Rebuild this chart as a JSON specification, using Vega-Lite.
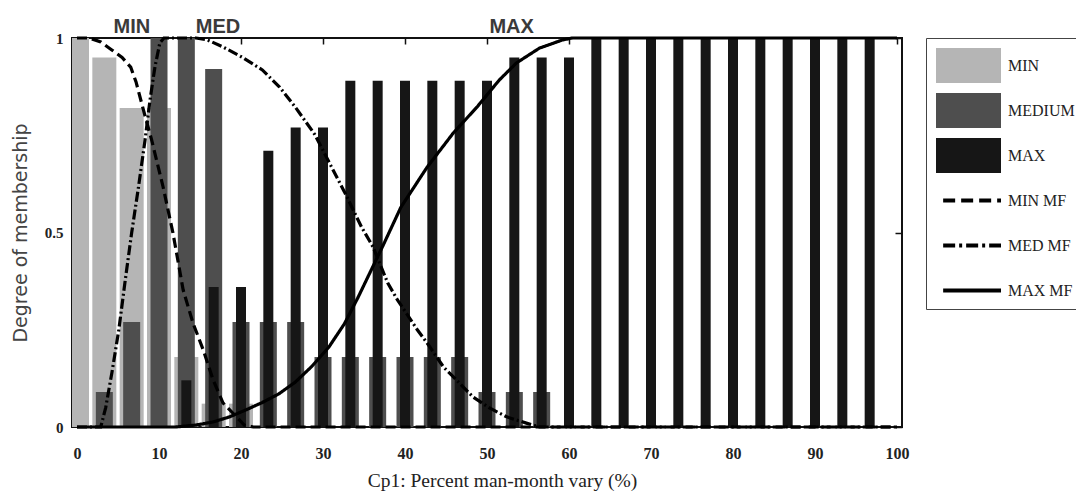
{
  "$schema": "https://vega.github.io/schema/vega-lite/v6.json",
  "width": 830,
  "height": 389,
  "autosize": {"type": "none"},
  "padding": {"left": 72, "top": 38, "right": 174, "bottom": 70},
  "background": "white",
  "config": {"view": {"stroke": "#111111", "strokeWidth": 2}},
  "datasets": {
    "bars": [
      {"x": 0, "mn": 1, "md": 0, "mx": 0},
      {"x": 3.333, "mn": 0.95, "md": 0.09, "mx": 0},
      {"x": 6.667, "mn": 0.82, "md": 0.27, "mx": 0},
      {"x": 10, "mn": 0.82, "md": 1, "mx": 0},
      {"x": 13.333, "mn": 0.18, "md": 1, "mx": 0.12},
      {"x": 16.667, "mn": 0.06, "md": 0.92, "mx": 0.36},
      {"x": 20, "mn": 0.06, "md": 0.27, "mx": 0.36},
      {"x": 23.333, "mn": 0, "md": 0.27, "mx": 0.71},
      {"x": 26.667, "mn": 0, "md": 0.27, "mx": 0.77},
      {"x": 30, "mn": 0, "md": 0.18, "mx": 0.77},
      {"x": 33.333, "mn": 0, "md": 0.18, "mx": 0.89},
      {"x": 36.667, "mn": 0, "md": 0.18, "mx": 0.89},
      {"x": 40, "mn": 0, "md": 0.18, "mx": 0.89},
      {"x": 43.333, "mn": 0, "md": 0.18, "mx": 0.89},
      {"x": 46.667, "mn": 0, "md": 0.18, "mx": 0.89},
      {"x": 50, "mn": 0, "md": 0.09, "mx": 0.89},
      {"x": 53.333, "mn": 0, "md": 0.09, "mx": 0.95},
      {"x": 56.667, "mn": 0, "md": 0.09, "mx": 0.95},
      {"x": 60, "mn": 0, "md": 0, "mx": 0.95},
      {"x": 63.333, "mn": 0, "md": 0, "mx": 1},
      {"x": 66.667, "mn": 0, "md": 0, "mx": 1},
      {"x": 70, "mn": 0, "md": 0, "mx": 1},
      {"x": 73.333, "mn": 0, "md": 0, "mx": 1},
      {"x": 76.667, "mn": 0, "md": 0, "mx": 1},
      {"x": 80, "mn": 0, "md": 0, "mx": 1},
      {"x": 83.333, "mn": 0, "md": 0, "mx": 1},
      {"x": 86.667, "mn": 0, "md": 0, "mx": 1},
      {"x": 90, "mn": 0, "md": 0, "mx": 1},
      {"x": 93.333, "mn": 0, "md": 0, "mx": 1},
      {"x": 96.667, "mn": 0, "md": 0, "mx": 1}
    ],
    "lines": [
      {"series": "MIN MF", "x": 0, "y": 1},
      {"series": "MIN MF", "x": 1.5, "y": 1},
      {"series": "MIN MF", "x": 2.9, "y": 0.99},
      {"series": "MIN MF", "x": 4.2, "y": 0.97},
      {"series": "MIN MF", "x": 5.5, "y": 0.95},
      {"series": "MIN MF", "x": 6.55, "y": 0.925},
      {"series": "MIN MF", "x": 7.2, "y": 0.887},
      {"series": "MIN MF", "x": 8.1, "y": 0.815},
      {"series": "MIN MF", "x": 9.1, "y": 0.738},
      {"series": "MIN MF", "x": 10.5, "y": 0.617},
      {"series": "MIN MF", "x": 11.7, "y": 0.499},
      {"series": "MIN MF", "x": 12.95, "y": 0.352},
      {"series": "MIN MF", "x": 14.15, "y": 0.267},
      {"series": "MIN MF", "x": 15.4, "y": 0.198},
      {"series": "MIN MF", "x": 16.6, "y": 0.121},
      {"series": "MIN MF", "x": 17.8, "y": 0.062},
      {"series": "MIN MF", "x": 19, "y": 0.036},
      {"series": "MIN MF", "x": 20.4, "y": 0.005},
      {"series": "MIN MF", "x": 21.5, "y": 0},
      {"series": "MIN MF", "x": 100, "y": 0},
      {"series": "MED MF", "x": 0, "y": 0},
      {"series": "MED MF", "x": 2.9, "y": 0},
      {"series": "MED MF", "x": 3.5, "y": 0.05},
      {"series": "MED MF", "x": 4.26, "y": 0.14},
      {"series": "MED MF", "x": 5.1, "y": 0.25},
      {"series": "MED MF", "x": 5.9, "y": 0.38},
      {"series": "MED MF", "x": 6.67, "y": 0.5},
      {"series": "MED MF", "x": 7.5, "y": 0.617},
      {"series": "MED MF", "x": 8.3, "y": 0.738},
      {"series": "MED MF", "x": 8.9, "y": 0.84},
      {"series": "MED MF", "x": 9.5, "y": 0.925},
      {"series": "MED MF", "x": 10.1, "y": 0.987},
      {"series": "MED MF", "x": 10.6, "y": 1},
      {"series": "MED MF", "x": 14.5, "y": 1},
      {"series": "MED MF", "x": 15.8, "y": 0.996},
      {"series": "MED MF", "x": 17.8, "y": 0.977},
      {"series": "MED MF", "x": 20.2, "y": 0.95},
      {"series": "MED MF", "x": 22.6, "y": 0.918},
      {"series": "MED MF", "x": 24.7, "y": 0.874},
      {"series": "MED MF", "x": 26.6, "y": 0.823},
      {"series": "MED MF", "x": 29, "y": 0.752},
      {"series": "MED MF", "x": 31, "y": 0.67},
      {"series": "MED MF", "x": 32.6, "y": 0.605},
      {"series": "MED MF", "x": 34.7, "y": 0.514},
      {"series": "MED MF", "x": 36.1, "y": 0.463},
      {"series": "MED MF", "x": 37.9, "y": 0.37},
      {"series": "MED MF", "x": 39.1, "y": 0.326},
      {"series": "MED MF", "x": 41.5, "y": 0.25},
      {"series": "MED MF", "x": 42.7, "y": 0.216},
      {"series": "MED MF", "x": 44.7, "y": 0.154},
      {"series": "MED MF", "x": 45.9, "y": 0.129},
      {"series": "MED MF", "x": 48.3, "y": 0.077},
      {"series": "MED MF", "x": 50.3, "y": 0.049},
      {"series": "MED MF", "x": 52.4, "y": 0.026},
      {"series": "MED MF", "x": 54.8, "y": 0.01},
      {"series": "MED MF", "x": 56.4, "y": 0},
      {"series": "MED MF", "x": 100, "y": 0},
      {"series": "MAX MF", "x": 0, "y": 0},
      {"series": "MAX MF", "x": 12, "y": 0},
      {"series": "MAX MF", "x": 14.5, "y": 0.005},
      {"series": "MAX MF", "x": 16.6, "y": 0.013},
      {"series": "MAX MF", "x": 18.6, "y": 0.026},
      {"series": "MAX MF", "x": 20.6, "y": 0.044},
      {"series": "MAX MF", "x": 22.6, "y": 0.063},
      {"series": "MAX MF", "x": 24.6, "y": 0.085},
      {"series": "MAX MF", "x": 26.6, "y": 0.115},
      {"series": "MAX MF", "x": 28.6, "y": 0.155},
      {"series": "MAX MF", "x": 30.7, "y": 0.205},
      {"series": "MAX MF", "x": 32.6, "y": 0.265},
      {"series": "MAX MF", "x": 34.2, "y": 0.33},
      {"series": "MAX MF", "x": 35.8, "y": 0.4},
      {"series": "MAX MF", "x": 37.4, "y": 0.47},
      {"series": "MAX MF", "x": 39.5, "y": 0.565},
      {"series": "MAX MF", "x": 42.7, "y": 0.668},
      {"series": "MAX MF", "x": 45.9, "y": 0.756},
      {"series": "MAX MF", "x": 48.8, "y": 0.823},
      {"series": "MAX MF", "x": 51.5, "y": 0.892},
      {"series": "MAX MF", "x": 53.6, "y": 0.936},
      {"series": "MAX MF", "x": 56.4, "y": 0.974},
      {"series": "MAX MF", "x": 59.2, "y": 0.995},
      {"series": "MAX MF", "x": 60.4, "y": 1},
      {"series": "MAX MF", "x": 100, "y": 1}
    ],
    "labels": [
      {"x": 6.7, "label": "MIN"},
      {"x": 17.2, "label": "MED"},
      {"x": 53, "label": "MAX"}
    ]
  },
  "layer": [
    {
      "data": {"name": "bars"},
      "mark": {"type": "bar", "width": 24, "clip": true},
      "encoding": {
        "x": {
          "field": "x", "type": "quantitative",
          "scale": {"domain": [0, 100], "nice": false, "zero": false},
          "axis": {
            "orient": "bottom", "values": [0, 10, 20, 30, 40, 50, 60, 70, 80, 90, 100],
            "format": "d", "ticks": false, "domain": false, "grid": false,
            "labelFont": "Liberation Serif", "labelFontWeight": "bold", "labelFontSize": 16,
            "labelColor": "#222222", "labelPadding": 18,
            "title": "Cp1: Percent man-month vary (%)",
            "titleFont": "Liberation Serif", "titleFontWeight": "normal", "titleFontSize": 19.5,
            "titleColor": "#222222", "titlePadding": 10, "titleX": 430
          }
        },
        "y": {
          "field": "mn", "type": "quantitative",
          "scale": {"domain": [0, 1], "nice": false},
          "axis": {
            "orient": "left", "values": [0, 0.5, 1], "format": "~g",
            "ticks": false, "domain": false, "grid": false,
            "labelFont": "Liberation Serif", "labelFontWeight": "bold", "labelFontSize": 15,
            "labelColor": "#222222", "labelPadding": 9,
            "title": "Degree of membership",
            "titleFont": "DejaVu Sans", "titleFontWeight": "normal", "titleFontSize": 19,
            "titleColor": "#444444", "titlePadding": 14
          }
        },
        "color": {
          "datum": "MIN", "type": "nominal",
          "scale": {
            "domain": ["MIN", "MEDIUM", "MAX", "MIN MF", "MED MF", "MAX MF"],
            "range": ["#b5b5b5", "#4e4e4e", "#161616", "#000000", "#000000", "#000000"]
          },
          "legend": {
            "title": null, "orient": "right", "offset": 22,
            "symbolType": "M-1,-0.54H1V0.54H-1Z", "symbolSize": 4225,
            "labelFont": "Liberation Serif", "labelFontSize": 16, "labelColor": "#222222",
            "labelOffset": 7, "padding": 10, "strokeColor": "#444444", "fillColor": "white",
            "gridAlign": "all", "rowPadding": 8,
            "encode": {
              "symbols": {
                "update": {
                  "x": {"value": 32.5},
                  "y": {"value": 17.5},
                  "shape": {"signal": "indexof(['MIN MF','MED MF','MAX MF'], datum.value) >= 0 ? 'M-0.78,0H1' : 'M-1,-0.54H1V0.54H-1Z'"},
                  "size": {"value": 4225},
                  "fill": {"signal": "datum.value == 'MIN' ? '#b5b5b5' : datum.value == 'MEDIUM' ? '#4e4e4e' : datum.value == 'MAX' ? '#161616' : 'transparent'"},
                  "stroke": {"signal": "indexof(['MIN MF','MED MF','MAX MF'], datum.value) >= 0 ? '#000000' : 'transparent'"},
                  "strokeWidth": {"signal": "indexof(['MIN MF','MED MF','MAX MF'], datum.value) >= 0 ? 4 : 0"},
                  "strokeDash": {"signal": "datum.value == 'MIN MF' ? [12,6] : datum.value == 'MED MF' ? [12,4,3,4] : [1,0]"},
                  "opacity": {"value": 1},
                  "fillOpacity": {"value": 1},
                  "strokeOpacity": {"value": 1}
                }
              },
              "labels": {
                "update": {"x": {"value": 72}, "y": {"value": 17.5}}
              }
            }
          }
        }
      }
    },
    {
      "data": {"name": "bars"},
      "mark": {"type": "bar", "width": 17, "clip": true},
      "encoding": {
        "x": {"field": "x", "type": "quantitative", "axis": null},
        "y": {"field": "md", "type": "quantitative", "axis": null},
        "color": {"datum": "MEDIUM", "type": "nominal"}
      }
    },
    {
      "data": {"name": "bars"},
      "mark": {"type": "bar", "width": 10, "clip": true},
      "encoding": {
        "x": {"field": "x", "type": "quantitative", "axis": null},
        "y": {"field": "mx", "type": "quantitative", "axis": null},
        "color": {"datum": "MAX", "type": "nominal"}
      }
    },
    {
      "data": {"name": "lines"},
      "mark": {"type": "line", "strokeWidth": 3.2},
      "encoding": {
        "x": {
          "field": "x", "type": "quantitative",
          "axis": {"orient": "top", "values": [0, 10, 20, 30, 40, 50, 60, 70, 80, 90, 100], "labels": false, "ticks": true, "tickSize": -6, "tickColor": "#111111", "tickWidth": 1.5, "domain": false, "grid": false, "title": null}
        },
        "y": {
          "field": "y", "type": "quantitative",
          "axis": {"orient": "right", "values": [0, 0.5, 1], "labels": false, "ticks": true, "tickSize": -7, "tickColor": "#111111", "tickWidth": 1.5, "domain": false, "grid": false, "title": null}
        },
        "color": {"field": "series", "type": "nominal", "legend": {"title": null}},
        "strokeDash": {
          "field": "series", "type": "nominal",
          "scale": {"domain": ["MIN MF", "MED MF", "MAX MF"], "range": [[10, 5], [10, 3, 2, 3], [1, 0]]},
          "legend": null
        }
      }
    },
    {
      "data": {"name": "labels"},
      "mark": {"type": "text", "font": "Liberation Sans", "fontWeight": "bold", "fontSize": 20, "fill": "#3a3a3a", "baseline": "alphabetic", "align": "center", "dy": -5},
      "encoding": {
        "x": {"field": "x", "type": "quantitative", "axis": null},
        "y": {"datum": 1, "type": "quantitative", "axis": null},
        "text": {"field": "label"}
      }
    }
  ],
  "resolve": {"axis": {"x": "independent", "y": "independent"}}
}
